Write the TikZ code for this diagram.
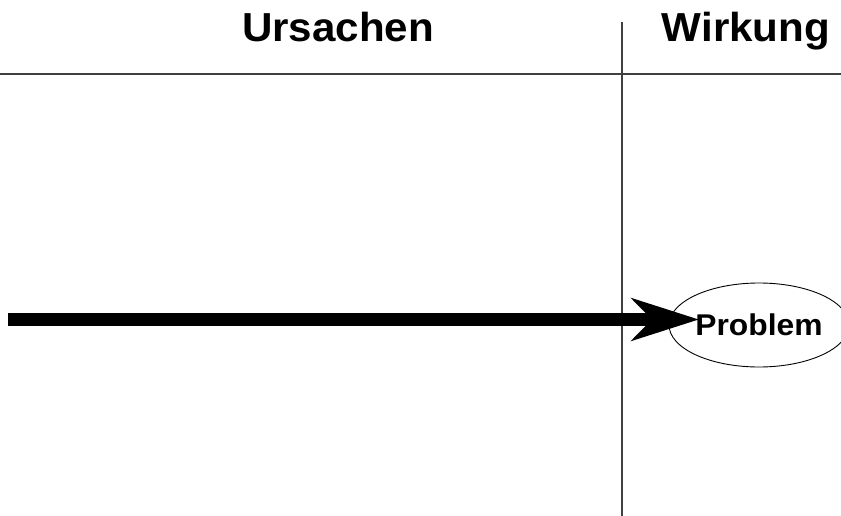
\documentclass[tikz,border=0pt]{standalone}
\usepackage{fontspec}
\usepackage{tikz}
\usetikzlibrary{arrows.meta,shapes.geometric}
\newfontfamily\headfont[FakeStretch=1.04]{Liberation Sans}
\newfontfamily\probfont[FakeStretch=1.06]{Liberation Sans}

\begin{document}
\begin{tikzpicture}[x=1pt,y=-1pt,
    titel/.style={anchor=base,font=\headfont\bfseries\fontsize{40.5}{44}\selectfont},
    trenner/.style={line width=1.2pt,black!75},
    wirk/.style={ellipse,draw,line width=0.9pt,minimum width=165pt,minimum height=84pt,inner sep=0pt,font=\probfont\bfseries\fontsize{30}{32}\selectfont}]
      \useasboundingbox (0,0) rectangle (841,516);
      % titel
      \node[titel] (ursachen) at (338,42) {Ursachen};
      \node[titel] (wirkung) at (746,42) {Wirkung};
      % linien
      \coordinate (hl) at (0,74);
      \coordinate (hr) at (841,74);
      \coordinate (vo) at (622,22);
      \coordinate (vu) at (622,516);
      \draw[trenner] (hl)--(hr);
      \draw[trenner] (vo)--(vu);
      % problem
      \node[wirk] (problem) at (759,325) {Problem};
      \coordinate (start) at (8,319.5);
      \coordinate (spitze) at (699,319.5);
      \draw[line width=13pt,-{Stealth[length=67pt,width=42pt,inset=20pt]}] (start)--(spitze);
\end{tikzpicture}
\end{document}
